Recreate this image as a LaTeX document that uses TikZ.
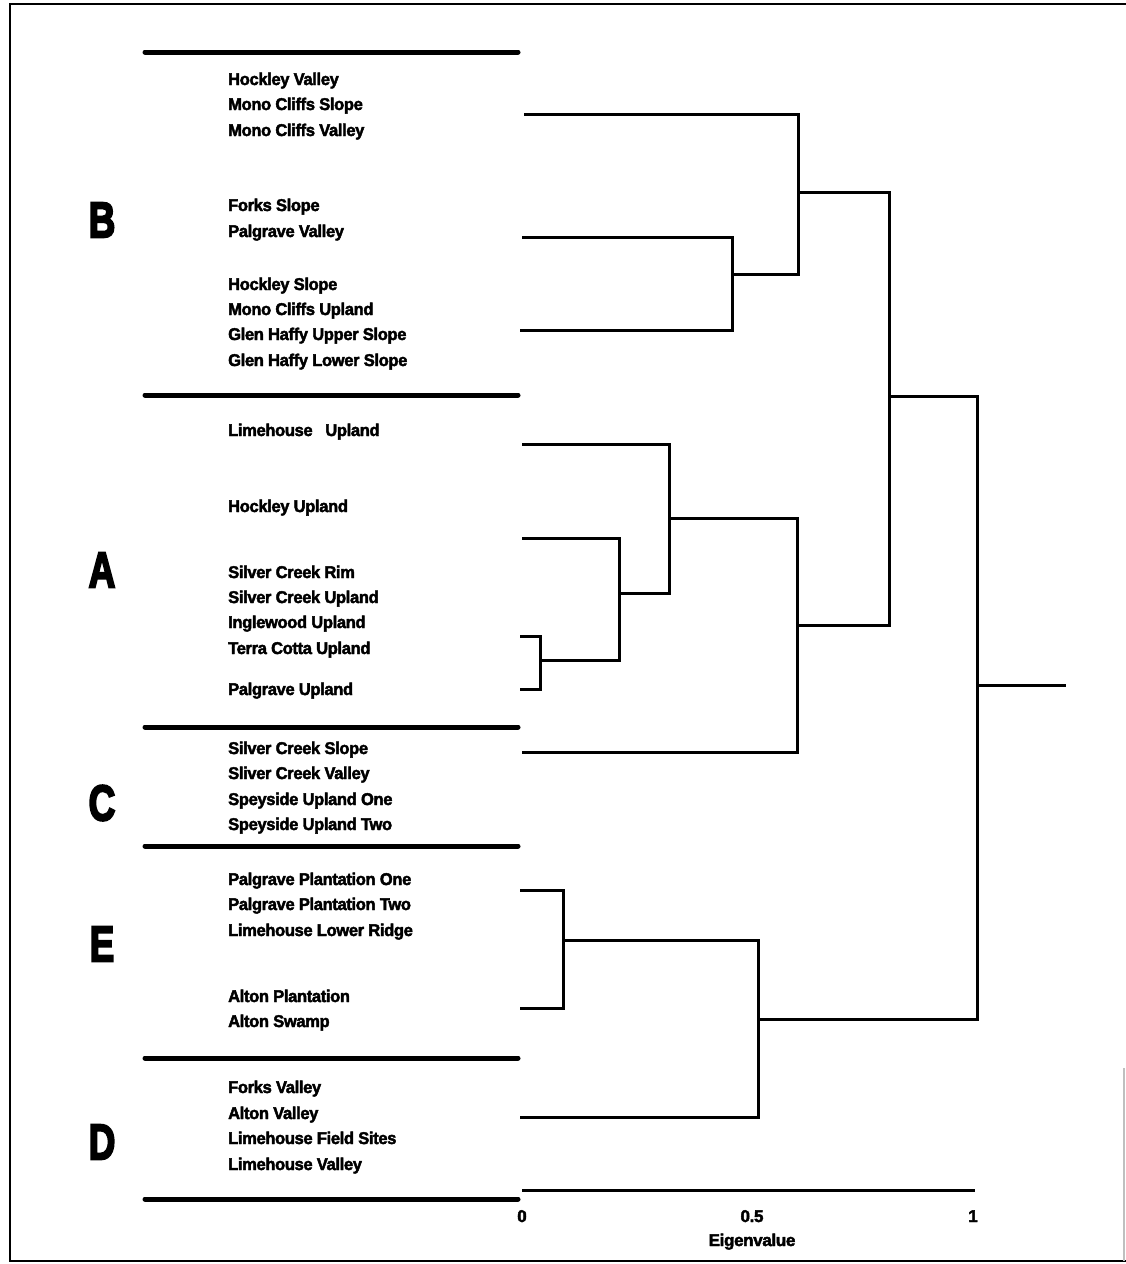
\documentclass[tikz,border=0pt]{standalone}
\usepackage{fontspec}
\newfontfamily\heavyfont{Liberation Sans}[BoldFeatures={FakeBold=2.6},LetterSpace=-2]
\newfontfamily\blackfont{Liberation Sans}[BoldFeatures={FakeBold=4.5}]
\begin{document}
\begin{tikzpicture}[x=1pt,y=-1pt,
  site/.style={anchor=base west,inner sep=0pt,
    font=\heavyfont\bfseries\fontsize{17}{17}\selectfont},
  grp/.style={anchor=center,inner sep=0pt,
    font=\blackfont\bfseries\fontsize{50}{50}\selectfont},
  ticklbl/.style={anchor=base,inner sep=0pt,
    font=\heavyfont\bfseries\fontsize{17}{17}\selectfont},
  divider/.style={line width=5pt,line cap=round},
  link/.style={line width=3pt,line join=miter},
  frameline/.style={line width=2.5pt}]
\useasboundingbox (0,0) rectangle (1126,1264);

% outer frame
\coordinate (fTL) at (10,4);
\coordinate (fTR) at (1126,4);
\coordinate (fBL) at (10,1261);
\coordinate (fBR) at (1126,1261);
\coordinate (fRt) at (1124,1068);
\coordinate (fRb) at (1124,1261);
\draw[frameline] (fTR) -- (fTL) -- (fBL) -- (fBR);
\draw[line width=1.5pt,black!25] (fRt) -- (fRb);

% group dividers
\foreach \y [count=\i] in {52,395,727,846,1058,1199}{
  \coordinate (dl\i) at (145,\y);
  \coordinate (dr\i) at (518,\y);
  \draw[divider] (dl\i) -- (dr\i);
}

% group letters
\node[grp] (gB) at (102,220) {\scalebox{0.74}[1]{B}};
\node[grp] (gA) at (102,570) {\scalebox{0.74}[1]{A}};
\node[grp] (gC) at (102,803) {\scalebox{0.74}[1]{C}};
\node[grp] (gE) at (102,944) {\scalebox{0.74}[1]{E}};
\node[grp] (gD) at (102,1142) {\scalebox{0.74}[1]{D}};

% site names
\foreach \y/\t [count=\i] in {
  85/Hockley Valley, 110/Mono Cliffs Slope, 136/Mono Cliffs Valley,
  211/Forks Slope, 237/Palgrave Valley,
  290/Hockley Slope, 315/Mono Cliffs Upland, 340/Glen Haffy Upper Slope, 366/Glen Haffy Lower Slope,
  436/Limehouse\ \ \ Upland, 512/Hockley Upland,
  578/Silver Creek Rim, 603/Silver Creek Upland, 628/Inglewood Upland, 654/Terra Cotta Upland,
  695/Palgrave Upland,
  754/Silver Creek Slope, 779/Sliver Creek Valley, 805/Speyside Upland One, 830/Speyside Upland Two,
  885/Palgrave Plantation One, 910/Palgrave Plantation Two, 936/Limehouse Lower Ridge,
  1002/Alton Plantation, 1027/Alton Swamp,
  1093/Forks Valley, 1119/Alton Valley, 1144/Limehouse Field Sites, 1170/Limehouse Valley}{
  \node[site] (s\i) at (228,\y) {\scalebox{0.97}[1]{\t}};
}

% leaves
\coordinate (lB1) at (524,114);
\coordinate (lB2) at (522,237);
\coordinate (lB3) at (520,330);
\coordinate (lA1) at (522,444);
\coordinate (lA2) at (522,538);
\coordinate (lA3) at (520,636);
\coordinate (lA4) at (520,689);
\coordinate (lC)  at (522,752);
\coordinate (lE1) at (520,890);
\coordinate (lE2) at (520,1008);
\coordinate (lD)  at (520,1117);

% merge points (x = level, y = stem)
\coordinate (mA34) at (540,660);
\coordinate (mA2)  at (619,593);
\coordinate (mA1)  at (669,518);
\coordinate (mAC)  at (797,625);
\coordinate (mB23) at (732,274);
\coordinate (mB)   at (798,192);
\coordinate (mBAC) at (889,396);
\coordinate (mE)   at (563,940);
\coordinate (mED)  at (758,1019);
\coordinate (root) at (977,685);
\coordinate (rootEnd) at (1066,685);

% dendrogram
\draw[link] (lA3) -| (mA34) |- (lA4);
\draw[link] (lA2) -| (mA2) |- (mA34);
\draw[link] (lA1) -| (mA1) |- (mA2);
\draw[link] (mA1) -| (mAC) |- (lC);
\draw[link] (lB2) -| (mB23) |- (lB3);
\draw[link] (lB1) -| (mB) |- (mB23);
\draw[link] (mB) -| (mBAC) |- (mAC);
\draw[link] (lE1) -| (mE) |- (lE2);
\draw[link] (mE) -| (mED) |- (lD);
\draw[link] (mBAC) -| (root) |- (mED);
\draw[link] (root) -- (rootEnd);

% eigenvalue axis
\coordinate (ax0) at (522,1190);
\coordinate (ax1) at (975,1190);
\draw[line width=3pt] (ax0) -- (ax1);
\node[ticklbl] (t0) at (522,1222) {0};
\node[ticklbl] (t5) at (752,1222) {0.5};
\node[ticklbl] (t1) at (973,1222) {1};
\node[ticklbl] (axlbl) at (752,1246) {Eigenvalue};
\end{tikzpicture}
\end{document}
